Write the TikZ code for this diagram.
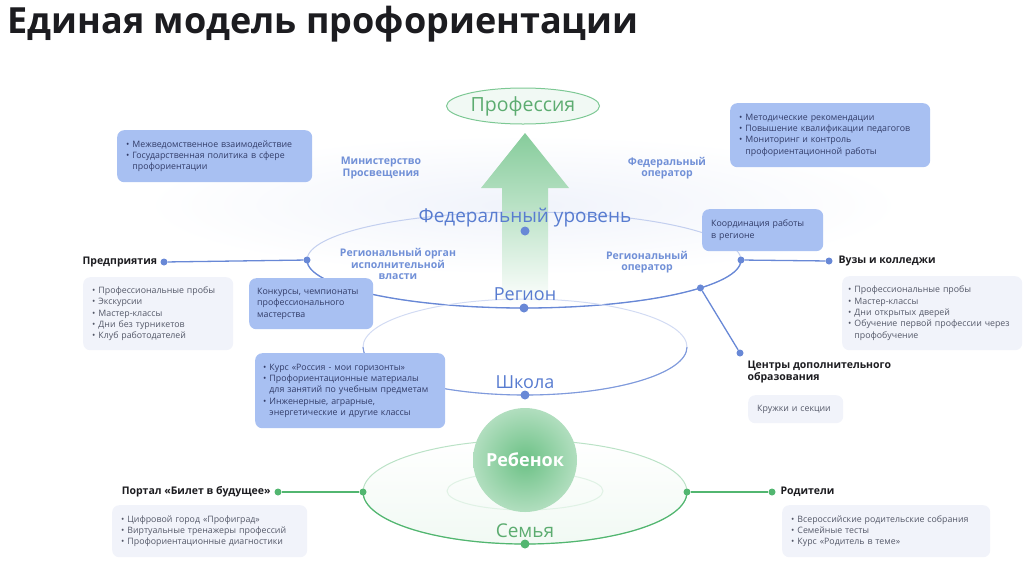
\documentclass[tikz,border=0pt]{standalone}
\usepackage{fontspec}
\setmainfont{Open Sans}
\usetikzlibrary{shapes.geometric, positioning}
\definecolor{MBlue}{RGB}{88,124,208}
\definecolor{MBlueLine}{RGB}{104,136,214}
\definecolor{MBox}{RGB}{168,192,242}
\definecolor{MGrey}{RGB}{241,243,250}
\definecolor{MInk}{RGB}{50,60,104}
\definecolor{MGreyInk}{RGB}{84,88,104}
\definecolor{MHead}{RGB}{28,28,32}
\definecolor{MGreen}{RGB}{82,182,112}
\definecolor{MGreenT}{RGB}{92,172,112}
\newcommand{\itm}[1]{\textbullet\ #1}
\newcommand{\ind}{\hphantom{\textbullet\ }}

\begin{document}
\begin{tikzpicture}[x=1pt, y=-1pt,
    lvl/.style={font=\fontsize{19}{19}\selectfont, text=MBlue, anchor=base},
    actor/.style={font=\fontsize{10.5}{11.5}\selectfont\bfseries, text=MBlue!85, align=center},
    head/.style={font=\fontsize{10.5}{12.5}\selectfont\bfseries, text=MHead},
    bbox/.style={rectangle, rounded corners=7pt, fill=MBox, text=MInk, anchor=north west,
                 align=left, inner xsep=9pt, inner ysep=0pt, font=\fontsize{8.8}{11.3}\selectfont},
    gbox/.style={bbox, fill=MGrey, text=MGreyInk},
    bdot/.style={circle, fill=MBlueLine, inner sep=0pt, minimum size=7pt},
    gdot/.style={bdot, fill=MGreen},
    bline/.style={draw=MBlueLine, line width=1.3pt},
    gline/.style={draw=MGreen, line width=1.3pt},
    orbit/.style={ellipse, inner sep=0pt, outer sep=0pt, line width=1pt}
  ]
  \useasboundingbox (0,0) rectangle (1024,574);

  % title
  \node[anchor=base west, font=\fontsize{36}{36}\selectfont\bfseries, text=MHead]
        (title) at (4,33) {Единая модель профориентации};

  % federal glow and the arrow up
  \shade[inner color=MBlue!9, outer color=white] (523,205) ellipse [x radius=380, y radius=70];
  \shade[top color=MGreen!70, bottom color=white]
        (525,133) -- (569,188) -- (548,188) -- (548,305) -- (502,305) -- (502,188) -- (481,188) -- cycle;

  % levels
  \node[orbit, draw=MBlueLine!40, minimum width=434pt, minimum height=96pt] (reg) at (524,260) {};
  \draw[MBlueLine, line width=1.3pt] (reg.east) arc[start angle=0, end angle=180, x radius=217, y radius=48];
  \node[orbit, draw=MBlueLine!30, minimum width=324pt, minimum height=96pt] (sch) at (525,347) {};
  \draw[MBlueLine!85, line width=1.1pt] (sch.east) arc[start angle=0, end angle=180, x radius=162, y radius=48];
  \node[orbit, draw=MGreen!40, shade, top color=white, bottom color=MGreen!8,
        minimum width=324pt, minimum height=104pt] (fam) at (525,492) {};
  \draw[MGreen, line width=1.2pt] (fam.east) arc[start angle=0, end angle=180, x radius=162, y radius=52];
  \node[orbit, draw=MGreen!18, minimum width=156pt, minimum height=38pt] (famin) at (525,491) {};
  \node[circle, minimum size=104pt, inner sep=0pt, shade, inner color=MGreen!85, outer color=MGreen!45,
        text=white, font=\fontsize{18}{18}\selectfont\bfseries] (kid) at (525,460) {Ребенок};

  \node[orbit, draw=MGreen!75, fill=MGreen!8, minimum width=153pt, minimum height=36pt,
        text=MGreenT, font=\fontsize{19.5}{19.5}\selectfont] (prof) at (523,106) {Профессия};

  \node[lvl] (fedlvl) at (525,222) {Федеральный уровень};
  \node[lvl, font=\fontsize{18}{18}\selectfont] (reglvl) at (525,300) {Регион};
  \node[lvl, font=\fontsize{18}{18}\selectfont] (schlvl) at (525,388) {Школа};
  \node[lvl, text=MGreenT] (famlvl) at (525,537) {Семья};

  \node[actor] (minedu) at (381,168) {Министерство\\Просвещения};
  \node[actor] (fedop)  at (667,168) {Федеральный\\оператор};
  \node[actor] (regexe) at (398,264) {Региональный орган\\исполнительной\\власти};
  \node[actor] (regop)  at (647,262) {Региональный\\оператор};

  % dots on the orbits
  \node[bdot, minimum size=9pt] (fedD) at (525,231) {};
  \node[bdot, minimum size=9pt] (regS) at (reg.south) {};
  \node[bdot, minimum size=9pt] (schS) at (sch.south) {};
  \node[gdot, minimum size=9pt] (famS) at (fam.south) {};
  \node[bdot] (regW)  at (reg.west) {};
  \node[bdot] (regE)  at (reg.east) {};
  \node[bdot] (regSE) at (reg.-9) {};
  \node[gdot] (famW)  at (fam.west) {};
  \node[gdot] (famE)  at (fam.east) {};

  % partners
  \node[head, anchor=west] (ent) at (79,262) {Предприятия};
  \node[bdot] (entD) at (164,262) {};
  \node[head, anchor=west] (uni) at (835,261) {Вузы и колледжи};
  \node[bdot] (uniD) at (829,261) {};
  \node[head, anchor=north west, align=left] (cent) at (744,357) {Центры дополнительного\\образования};
  \node[bdot] (centD) at (740,353) {};
  \node[head, anchor=east] (portal) at (274,492) {Портал «Билет в будущее»};
  \node[gdot] (portD) at (278,492) {};
  \node[head, anchor=west] (par) at (777,492) {Родители};
  \node[gdot] (parD) at (772,492) {};

  \draw[bline] (entD) -- (regW);
  \draw[bline] (regE) -- (uniD);
  \draw[bline] (regSE) -- (centD);
  \draw[gline] (portD) -- (famW);
  \draw[gline] (famE) -- (parD);

  % boxes
  \node[bbox, text width=177pt, minimum height=52pt] (fedbox) at (117,130)
        {\itm{Межведомственное взаимодействие}\\\itm{Государственная политика в сфере}\\\ind профориентации};
  \node[bbox, text width=182pt, minimum height=64pt] (opbox) at (730,103)
        {\itm{Методические рекомендации}\\\itm{Повышение квалификации педагогов}\\\itm{Мониторинг и контроль}\\\ind профориентационной работы};
  \node[bbox, text width=103pt, minimum height=42pt] (coordbox) at (702,209)
        {Координация работы\\в регионе};
  \node[bbox, text width=108pt, inner xsep=8pt, minimum height=51pt] (contbox) at (249,278)
        {Конкурсы, чемпионаты\\профессионального\\мастерства};
  \node[bbox, text width=174pt, inner xsep=8pt, minimum height=75pt] (schbox) at (255,353)
        {\itm{Курс «Россия - мои горизонты»}\\\itm{Профориентационные материалы}\\\ind для занятий по учебным предметам\\\itm{Инженерные, аграрные,}\\\ind энергетические и другие классы};
  \node[gbox, text width=132pt, minimum height=73pt] (entbox) at (83,277)
        {\itm{Профессиональные пробы}\\\itm{Экскурсии}\\\itm{Мастер-классы}\\\itm{Дни без турникетов}\\\itm{Клуб работодателей}};
  \node[gbox, text width=168pt, inner xsep=6pt, minimum height=74pt] (unibox) at (842,276)
        {\itm{Профессиональные пробы}\\\itm{Мастер-классы}\\\itm{Дни открытых дверей}\\\itm{Обучение первой профессии через}\\\ind профобучение};
  \node[gbox, text width=77pt, minimum height=28pt] (centbox) at (748,395) {Кружки и секции};
  \node[gbox, text width=177pt, minimum height=52pt] (portbox) at (112,505)
        {\itm{Цифровой город «Профиград»}\\\itm{Виртуальные тренажеры профессий}\\\itm{Профориентационные диагностики}};
  \node[gbox, text width=190pt, minimum height=52pt] (parbox) at (782,505)
        {\itm{Всероссийские родительские собрания}\\\itm{Семейные тесты}\\\itm{Курс «Родитель в теме»}};
\end{tikzpicture}
\end{document}
